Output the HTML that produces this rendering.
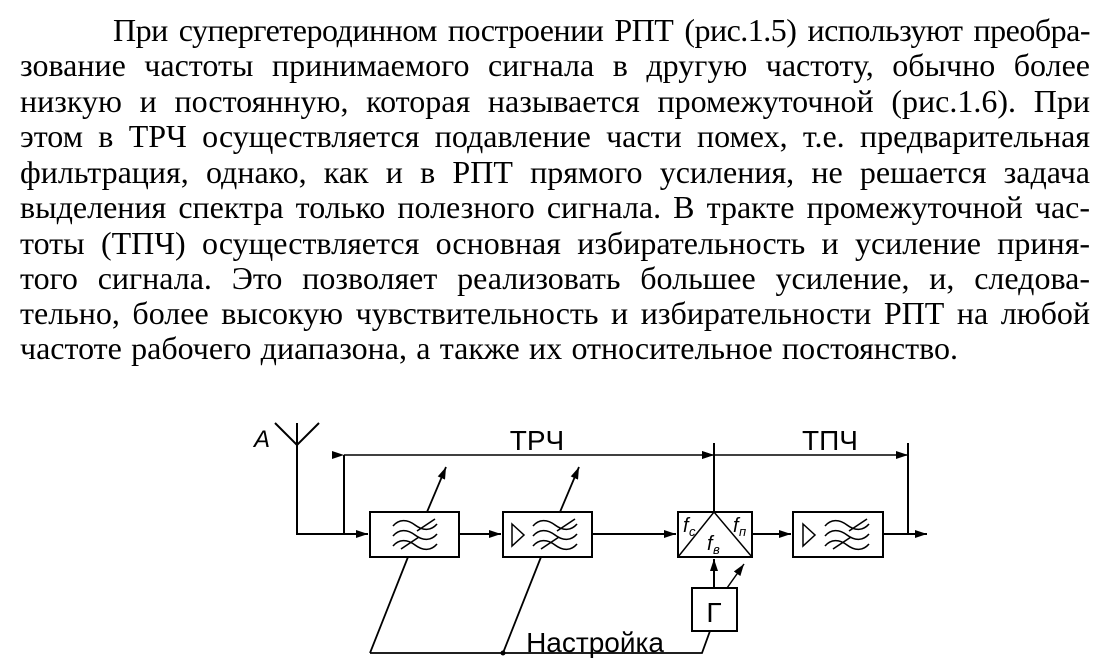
<!DOCTYPE html>
<html><head><meta charset="utf-8"><style>
html,body{margin:0;padding:0;background:#fff;}
body{width:1105px;height:667px;position:relative;overflow:hidden;}
.t{position:absolute;left:20px;width:1070px;font-family:"Liberation Serif","Times New Roman",serif;font-size:32px;line-height:35px;height:35px;white-space:nowrap;text-align:justify;text-align-last:justify;color:#000;}
svg{position:absolute;left:0;top:0;}
svg text{font-family:"Liberation Sans","DejaVu Sans",sans-serif;}
</style></head><body>
<div class="t" style="top:13px;left:113px;width:977px;letter-spacing:-0.5px">При супергетеродинном построении РПТ (рис.1.5) используют преобра-</div>
<div class="t" style="top:48px">зование частоты принимаемого сигнала в другую частоту, обычно более</div>
<div class="t" style="top:83.5px">низкую и постоянную, которая называется промежуточной (рис.1.6). При</div>
<div class="t" style="top:119px">этом в ТРЧ осуществляется подавление части помех, т.е. предварительная</div>
<div class="t" style="top:154.5px">фильтрация, однако, как и в РПТ прямого усиления, не решается задача</div>
<div class="t" style="top:190px">выделения спектра только полезного сигнала. В тракте промежуточной час-</div>
<div class="t" style="top:226px">тоты (ТПЧ) осуществляется основная избирательность и усиление приня-</div>
<div class="t" style="top:261px">того сигнала. Это позволяет реализовать большее усиление, и, следова-</div>
<div class="t" style="top:296px">тельно, более высокую чувствительность и избирательности РПТ на любой</div>
<div class="t" style="top:331px;width:938px">частоте рабочего диапазона, а также их относительное постоянство.</div>

<svg width="1105" height="667" viewBox="0 0 1105 667">
<defs>
<marker id="a" markerWidth="12" markerHeight="8" refX="12" refY="4" orient="auto" markerUnits="userSpaceOnUse"><path d="M0,0 L12,4 L0,8 z" fill="#000"/></marker>
<g id="flt" fill="none" stroke="#000" stroke-width="1.6">
<path d="M0,12 C6,5 14,5 22,11 S38,17 44,10"/>
<path d="M0,22 C6,15 14,15 22,21 S38,27 44,20"/>
<path d="M0,32 C6,25 14,25 22,31 S38,37 44,30"/>
<path d="M24,17 L42,5"/>
<path d="M8,35 L26,23"/>
</g>
</defs>
<g stroke="#000" stroke-width="2" fill="none">
<path d="M275,423 L297,445 L319,423 M297,423 L297,445 L297,534 L368,534" marker-end="url(#a)"/>
<path d="M344,534 L344,455"/>
<path d="M344,455 L714,455" stroke-width="1.5" marker-end="url(#a)" marker-start="url(#a)"/>
<path d="M714,455 L908,455" stroke-width="1.5" marker-end="url(#a)" marker-start="url(#a)"/>
<path d="M714,443 L714,512"/>
<path d="M908,443 L908,534"/>
<rect x="370" y="512" width="89" height="45"/>
<rect x="503" y="512" width="89" height="45"/>
<rect x="678" y="512" width="74" height="45"/>
<rect x="793" y="512" width="90" height="45"/>
<rect x="692" y="588" width="45" height="43"/>
<path d="M459,534 L501,534" marker-end="url(#a)"/>
<path d="M592,534 L676,534" marker-end="url(#a)"/>
<path d="M752,534 L791,534" marker-end="url(#a)"/>
<path d="M883,534 L927,534" marker-end="url(#a)"/>
<path d="M714,588 L714,559" marker-end="url(#a)"/>
<path d="M727,588 L744,564" stroke-width="1.5" marker-end="url(#a)"/>
<path d="M678,557 L714,512 L752,557" stroke-width="1.5"/>
<path d="M370,653 L702,653 L710,631" stroke-width="1.8"/>
<path d="M370,653 L408,557 M503,653 L541,557" stroke-width="1.8"/>
<path d="M427,512 L446,467" stroke-width="1.8" marker-end="url(#a)"/>
<path d="M560,512 L579,467" stroke-width="1.8" marker-end="url(#a)"/>
<path d="M512,524 L524,535 L512,546 z" stroke-width="1.5"/>
<path d="M803,524 L815,535 L803,546 z" stroke-width="1.5"/>
</g>
<circle cx="503" cy="653" r="2.5" fill="#000"/>
<use href="#flt" x="393" y="514"/>
<use href="#flt" x="533" y="514"/>
<use href="#flt" x="825" y="514"/>
<text x="254" y="447" font-size="24" font-style="italic">A</text>
<text x="537" y="450" font-size="28" text-anchor="middle">ТРЧ</text>
<text x="830" y="450" font-size="28" text-anchor="middle">ТПЧ</text>
<text x="595" y="652" font-size="28" text-anchor="middle">Настройка</text>
<text x="714" y="622" font-size="28" text-anchor="middle">Г</text>
<text x="683" y="532" font-size="20" font-style="italic">f</text><text x="689" y="536" font-size="13" font-style="italic">c</text>
<text x="707" y="550" font-size="20" font-style="italic">f</text><text x="713" y="554" font-size="13" font-style="italic">в</text>
<text x="733" y="532" font-size="20" font-style="italic">f</text><text x="739" y="536" font-size="13" font-style="italic">п</text>
</svg>
</body></html>
